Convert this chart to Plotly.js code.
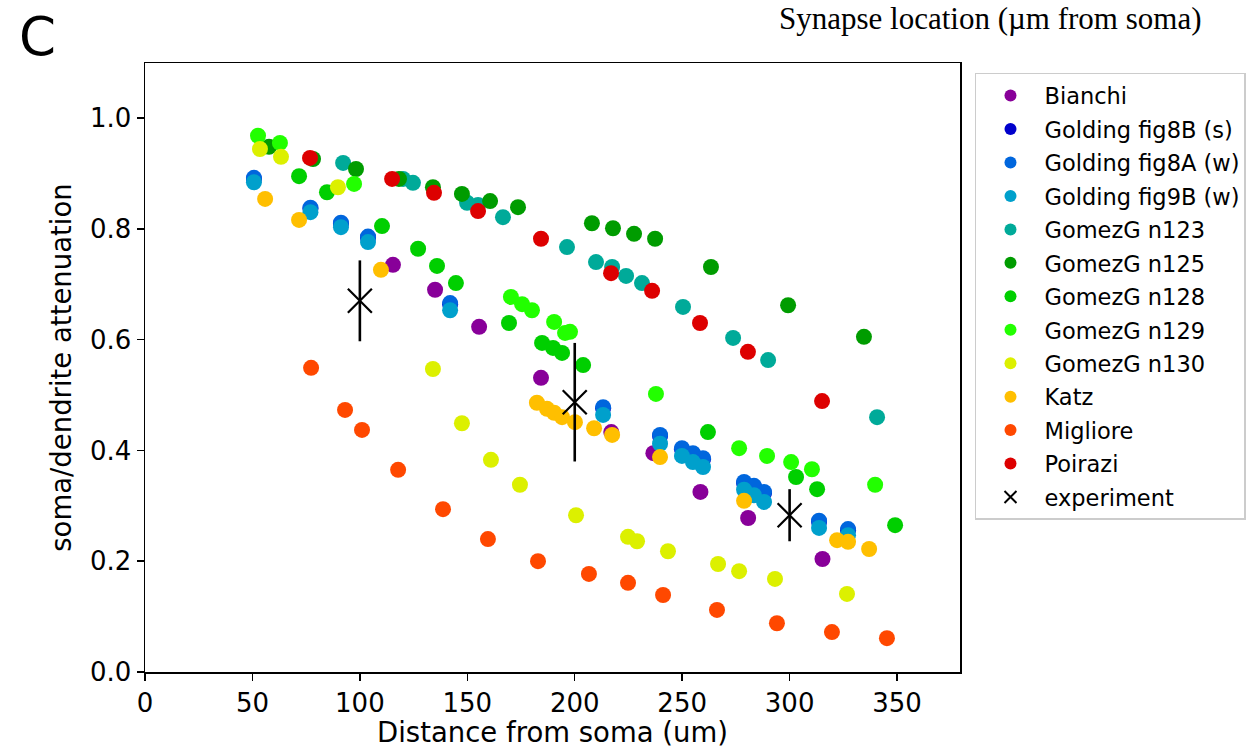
<!DOCTYPE html>
<html>
<head>
<meta charset="utf-8">
<script src="https://cdn.plot.ly/plotly-3.0.1.min.js"></script>
<style>html,body{margin:0;padding:0;background:#fff;}#chart{width:1257px;height:748px;}</style>
</head>
<body>
<div id="chart"></div>
<script>
// ---- data ----
const seriesNames = ["Bianchi","Golding fig8B (s)","Golding fig8A (w)","Golding fig9B (w)","GomezG n123","GomezG n125","GomezG n128","GomezG n129","GomezG n130","Katz","Migliore","Poirazi"];
const seriesColors = ["#880099","#0000cc","#0066dd","#00a0cc","#00aa99","#009c00","#00cf00","#22ff00","#dcf000","#ffbf00","#ff4800","#dd0000"];

const bianchiX = [115.4,135.0,155.5,184.3,217.0,236.6,258.5,280.7,315.3];
const bianchiY = [0.735,0.690,0.623,0.531,0.433,0.395,0.325,0.278,0.204];

const golding8AX = [50.7,77.0,91.2,103.8,142.0,213.2,239.7,249.9,255.0,259.7,278.8,283.4,288.1,313.7,327.2];
const golding8AY = [0.892,0.838,0.811,0.786,0.666,0.478,0.428,0.404,0.395,0.386,0.343,0.336,0.325,0.273,0.258];
const golding8BX = [50.7,77.0,91.2,103.8,142.0,213.2,239.7,249.9,255.0,259.7,278.8,283.4,288.1,313.7,327.2];
const golding8BY = [0.890,0.836,0.809,0.784,0.664,0.476,0.426,0.402,0.393,0.384,0.341,0.334,0.323,0.271,0.256];
const golding9BX = [50.7,77.0,91.2,103.8,142.0,213.2,239.7,249.9,255.0,259.7,278.8,283.4,288.1,313.7,327.2];
const golding9BY = [0.884,0.830,0.803,0.776,0.653,0.464,0.412,0.390,0.379,0.370,0.329,0.319,0.307,0.260,0.247];

const n123X = [92.2,120.1,124.7,149.9,155.0,166.6,196.4,209.9,217.4,223.9,231.3,250.4,273.7,290.0,340.7];
const n123Y = [0.919,0.890,0.883,0.847,0.843,0.821,0.767,0.740,0.731,0.715,0.702,0.659,0.603,0.563,0.460];

const n125X = [57.7,78.2,98.2,118.2,134.0,147.5,160.6,173.6,208.0,217.8,227.6,237.4,263.4,299.3,334.6];
const n125Y = [0.948,0.926,0.908,0.890,0.875,0.863,0.850,0.839,0.810,0.801,0.791,0.782,0.731,0.662,0.605];

const n128X = [71.7,84.7,110.3,127.1,135.9,144.7,169.4,184.8,189.9,194.1,203.9,262.0,303.0,312.8,349.1];
const n128Y = [0.895,0.866,0.805,0.764,0.733,0.702,0.630,0.594,0.585,0.576,0.554,0.433,0.352,0.330,0.265];

const n129X = [52.6,62.8,97.3,170.3,175.5,180.1,190.4,195.5,197.8,237.8,276.5,289.5,300.7,310.4,339.8];
const n129Y = [0.968,0.955,0.881,0.677,0.664,0.653,0.632,0.612,0.614,0.502,0.404,0.390,0.379,0.366,0.338];

const n130X = [53.5,63.3,89.8,134.0,147.5,161.0,174.5,200.6,224.8,229.0,243.4,266.7,276.5,293.2,326.7];
const n130Y = [0.944,0.930,0.875,0.547,0.449,0.383,0.338,0.283,0.244,0.236,0.218,0.195,0.182,0.168,0.141];

const katzX = [55.9,71.7,109.8,182.4,187.1,190.4,194.1,200.1,209.0,217.4,239.7,278.8,322.1,327.2,337.0];
const katzY = [0.854,0.816,0.726,0.486,0.475,0.468,0.460,0.451,0.440,0.428,0.388,0.309,0.238,0.235,0.222];

const miglioreX = [77.3,93.1,101.0,117.8,138.7,159.6,182.9,206.6,224.8,241.1,266.2,294.1,319.7,345.3];
const miglioreY = [0.549,0.473,0.437,0.365,0.294,0.240,0.200,0.177,0.161,0.139,0.112,0.088,0.072,0.061];

const poiraziX = [76.8,115.0,134.5,155.0,184.3,216.9,236.0,258.3,280.6,315.1];
const poiraziY = [0.928,0.890,0.865,0.832,0.782,0.720,0.688,0.630,0.578,0.489];

const experimentX = [100,200,300];
const experimentY = [0.670,0.487,0.283];
const experimentErr = [0.073,0.107,0.047];

const xTicks = [0,50,100,150,200,250,300,350];
const yTicks = [0.0,0.2,0.4,0.6,0.8,1.0];

// ---- build traces ----
const seriesX = [bianchiX,golding8BX,golding8AX,golding9BX,n123X,n125X,n128X,n129X,n130X,katzX,miglioreX,poiraziX];
const seriesY = [bianchiY,golding8BY,golding8AY,golding9BY,n123Y,n125Y,n128Y,n129Y,n130Y,katzY,miglioreY,poiraziY];

const FONT = "DejaVu Sans, Arial, sans-serif";
const traces = seriesNames.map((name,i)=>({
  type:"scatter", mode:"markers", name:name,
  x:seriesX[i], y:seriesY[i], legendgroup:"g"+i,
  marker:{color:seriesColors[i], size:16, line:{width:0}},
  cliponaxis:false
}));
traces.push({
  type:"scatter", mode:"markers", name:"experiment", legendgroup:"gexp",
  x:experimentX, y:experimentY,
  marker:{symbol:"x-thin-open", size:24, color:"#000", line:{color:"#000", width:2.2}},
  error_y:{type:"data", array:experimentErr, visible:true, color:"#000", thickness:2.6, width:0}
});

const layout = {
  width:1257, height:748,
  paper_bgcolor:"#fff", plot_bgcolor:"#fff",
  margin:{l:145, r:297, t:63, b:76, pad:0, autoexpand:false},
  font:{family:FONT, size:26, color:"#000"},
  showlegend:true,
  xaxis:{
    range:[0,379.3], tickvals:xTicks, ticktext:xTicks.map(String),
    ticks:"outside", ticklen:7, tickwidth:1.5, tickcolor:"#000",
    showline:true, linecolor:"#000", linewidth:1.5, mirror:true,
    showgrid:false, zeroline:false,
    tickfont:{family:FONT, size:26, color:"#000"},
    title:{text:"Distance from soma (um)", font:{family:FONT, size:27.5, color:"#000"}, standoff:8}
  },
  yaxis:{
    range:[0,1.0993], tickvals:yTicks, ticktext:yTicks.map(v=>v.toFixed(1)),
    ticks:"outside", ticklen:7, tickwidth:1.5, tickcolor:"#000",
    showline:true, linecolor:"#000", linewidth:1.5, mirror:true,
    showgrid:false, zeroline:false,
    tickfont:{family:FONT, size:26, color:"#000"},
    title:{text:"soma/dendrite attenuation", font:{family:FONT, size:27.5, color:"#000"}, standoff:10}
  },
  legend:{
    x:1.0184, y:0.9836, xanchor:"left", yanchor:"top",
    bordercolor:"#cccccc", borderwidth:1.5, bgcolor:"#fff",
    font:{family:FONT, size:22.5, color:"#000"},
    tracegroupgap:1.2, itemsizing:"constant", itemwidth:58
  },
  annotations:[
    {xref:"paper", yref:"paper", x:-0.1325, y:1.0443, xanchor:"center", yanchor:"middle",
     text:"C", showarrow:false, font:{family:FONT, size:53, color:"#000"}},
    {xref:"paper", yref:"paper", x:1.038, y:1.1034, xanchor:"center", yanchor:"top", borderpad:0,
     text:"Synapse location (µm from soma)", showarrow:false,
     font:{family:"Liberation Serif, Times New Roman, serif", size:31, color:"#000"}}
  ]
};

Plotly.newPlot("chart", traces, layout, {displayModeBar:false, staticPlot:true});
</script>
</body>
</html>
